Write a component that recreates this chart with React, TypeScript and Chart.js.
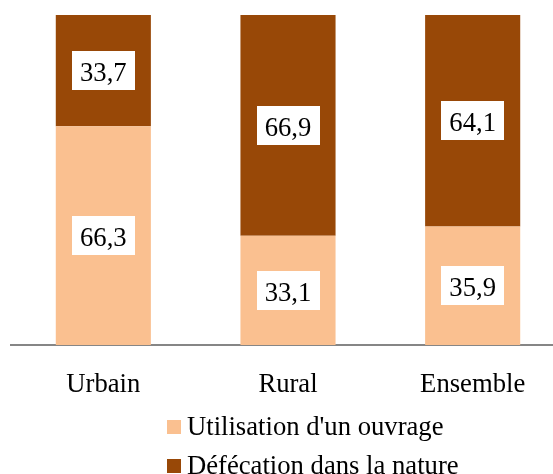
import React, { useEffect, useRef } from "react";
import { Chart, registerables } from "chart.js";

Chart.register(...registerables);

const categories = ["Urbain", "Rural", "Ensemble"];
const utilisation = [66.3, 33.1, 35.9];
const defecation = [33.7, 66.9, 64.1];
const seriesNames = ["Utilisation d'un ouvrage", "Défécation dans la nature"];
const seriesColors = ["#FAC090", "#984807"];

const FONT_FAMILY = '"Liberation Serif", "Times New Roman", Times, serif';
const FS = 26.67;

const fmt = (v: number) => v.toFixed(1).replace(".", ",");

const valueLabels = {
  id: "valueLabels",
  afterDatasetsDraw(chart: any) {
    const ctx = chart.ctx;
    ctx.save();
    ctx.font = `${FS}px ${FONT_FAMILY}`;
    chart.data.datasets.forEach((ds: any, di: number) => {
      const meta = chart.getDatasetMeta(di);
      meta.data.forEach((el: any, i: number) => {
        const { x, y, base } = el.getProps(["x", "y", "base"], true);
        const cy = (y + base) / 2;
        const text = fmt(ds.data[i]);
        const tw = ctx.measureText(text).width;
        const bw = tw + 16;
        const bh = 39;
        ctx.fillStyle = "#ffffff";
        ctx.fillRect(Math.round(x - bw / 2), Math.round(cy - bh / 2), Math.round(bw), bh);
        ctx.fillStyle = "#000000";
        ctx.textAlign = "center";
        ctx.textBaseline = "alphabetic";
        ctx.fillText(text, x, cy + 0.39 * FS);
      });
    });
    ctx.restore();
  },
};

const customLegend = {
  id: "customLegend",
  afterDraw(chart: any) {
    const ctx = chart.ctx;
    ctx.save();
    ctx.font = `${FS}px ${FONT_FAMILY}`;
    ctx.textAlign = "left";
    ctx.textBaseline = "alphabetic";
    const x0 = 167;
    const rows = [420, 459];
    chart.data.datasets.forEach((ds: any, i: number) => {
      const top = rows[i];
      ctx.fillStyle = ds.backgroundColor;
      ctx.fillRect(x0, top, 14, 14);
      ctx.fillStyle = "#000000";
      ctx.fillText(ds.label, x0 + 20, top + 15);
    });
    ctx.restore();
  },
};

export default function App() {
  const canvasRef = useRef<HTMLCanvasElement | null>(null);

  useEffect(() => {
    if (!canvasRef.current) return;
    const chart = new Chart(canvasRef.current, {
      type: "bar",
      data: {
        labels: categories,
        datasets: [
          {
            label: seriesNames[0],
            data: utilisation,
            backgroundColor: seriesColors[0],
            borderWidth: 0,
          },
          {
            label: seriesNames[1],
            data: defecation,
            backgroundColor: seriesColors[1],
            borderWidth: 0,
          },
        ],
      },
      options: {
        responsive: false,
        animation: false,
        devicePixelRatio: 1,
        layout: { padding: { left: 11, right: 0, top: 15, bottom: 74 } },
        datasets: {
          bar: { categoryPercentage: 1, barPercentage: 0.515 },
        },
        plugins: {
          legend: { display: false },
          tooltip: { enabled: false },
          title: { display: false },
        },
        scales: {
          x: {
            stacked: true,
            grid: { display: false },
            border: { display: true, color: "#868686", width: 2 },
            ticks: {
              color: "#000000",
              padding: 16,
              font: { family: FONT_FAMILY, size: FS },
              maxRotation: 0,
            },
            afterFit(scale: any) {
              scale.height = 55;
            },
          },
          y: {
            stacked: true,
            display: false,
            min: 0,
            max: 100,
          },
        },
      },
      plugins: [valueLabels, customLegend],
    });
    return () => chart.destroy();
  }, []);

  return (
    <div
      style={{
        position: "fixed",
        left: 0,
        top: 0,
        width: 553,
        height: 474,
        overflow: "hidden",
        background: "#ffffff",
      }}
    >
      <canvas ref={canvasRef} width={565} height={474} style={{ display: "block" }} />
    </div>
  );
}
